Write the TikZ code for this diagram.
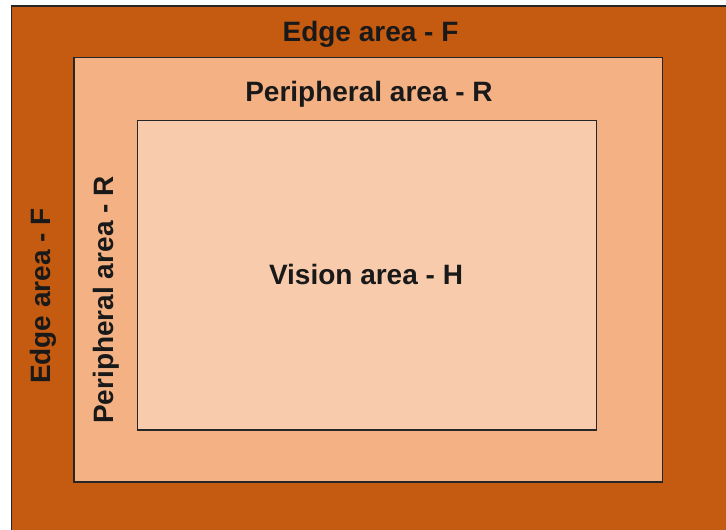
\documentclass[tikz,border=0pt]{standalone}
\usepackage{fontspec}
\setmainfont{Liberation Sans}
\definecolor{edgec}{HTML}{C55A11}
\definecolor{perc}{HTML}{F4B183}
\definecolor{visc}{HTML}{F8CBAD}
\tikzset{
  area/.style={draw=black!85, line width=1.3pt},
  lbl/.style={inner sep=0pt, anchor=base, font=\fontsize{28}{34}\selectfont\bfseries, text=black!90}
}
\begin{document}
\begin{tikzpicture}[x=1pt,y=1pt]
\useasboundingbox (0,0) rectangle (726,530);
\clip (0,0) rectangle (726,530);
\fill[white] (0,0) rectangle (726,530);
\draw[area, fill=edgec] (11.7,524) rectangle (740,-10);
\draw[area, fill=perc] (74,472.5) rectangle (662.5,48);
\draw[area, fill=visc] (137.5,409.5) rectangle (596.5,100);
\node[lbl] (edgetop) at (370.5,488) {Edge area - F};
\node[lbl] (pertop) at (369,428) {Peripheral area - R};
\node[lbl] (vis) at (366,245) {Vision area - H};
\node[lbl, rotate=90] (edgeleft) at (50,234) {Edge area - F};
\node[lbl, rotate=90] (perleft) at (113,230) {Peripheral area - R};
\end{tikzpicture}
\end{document}
